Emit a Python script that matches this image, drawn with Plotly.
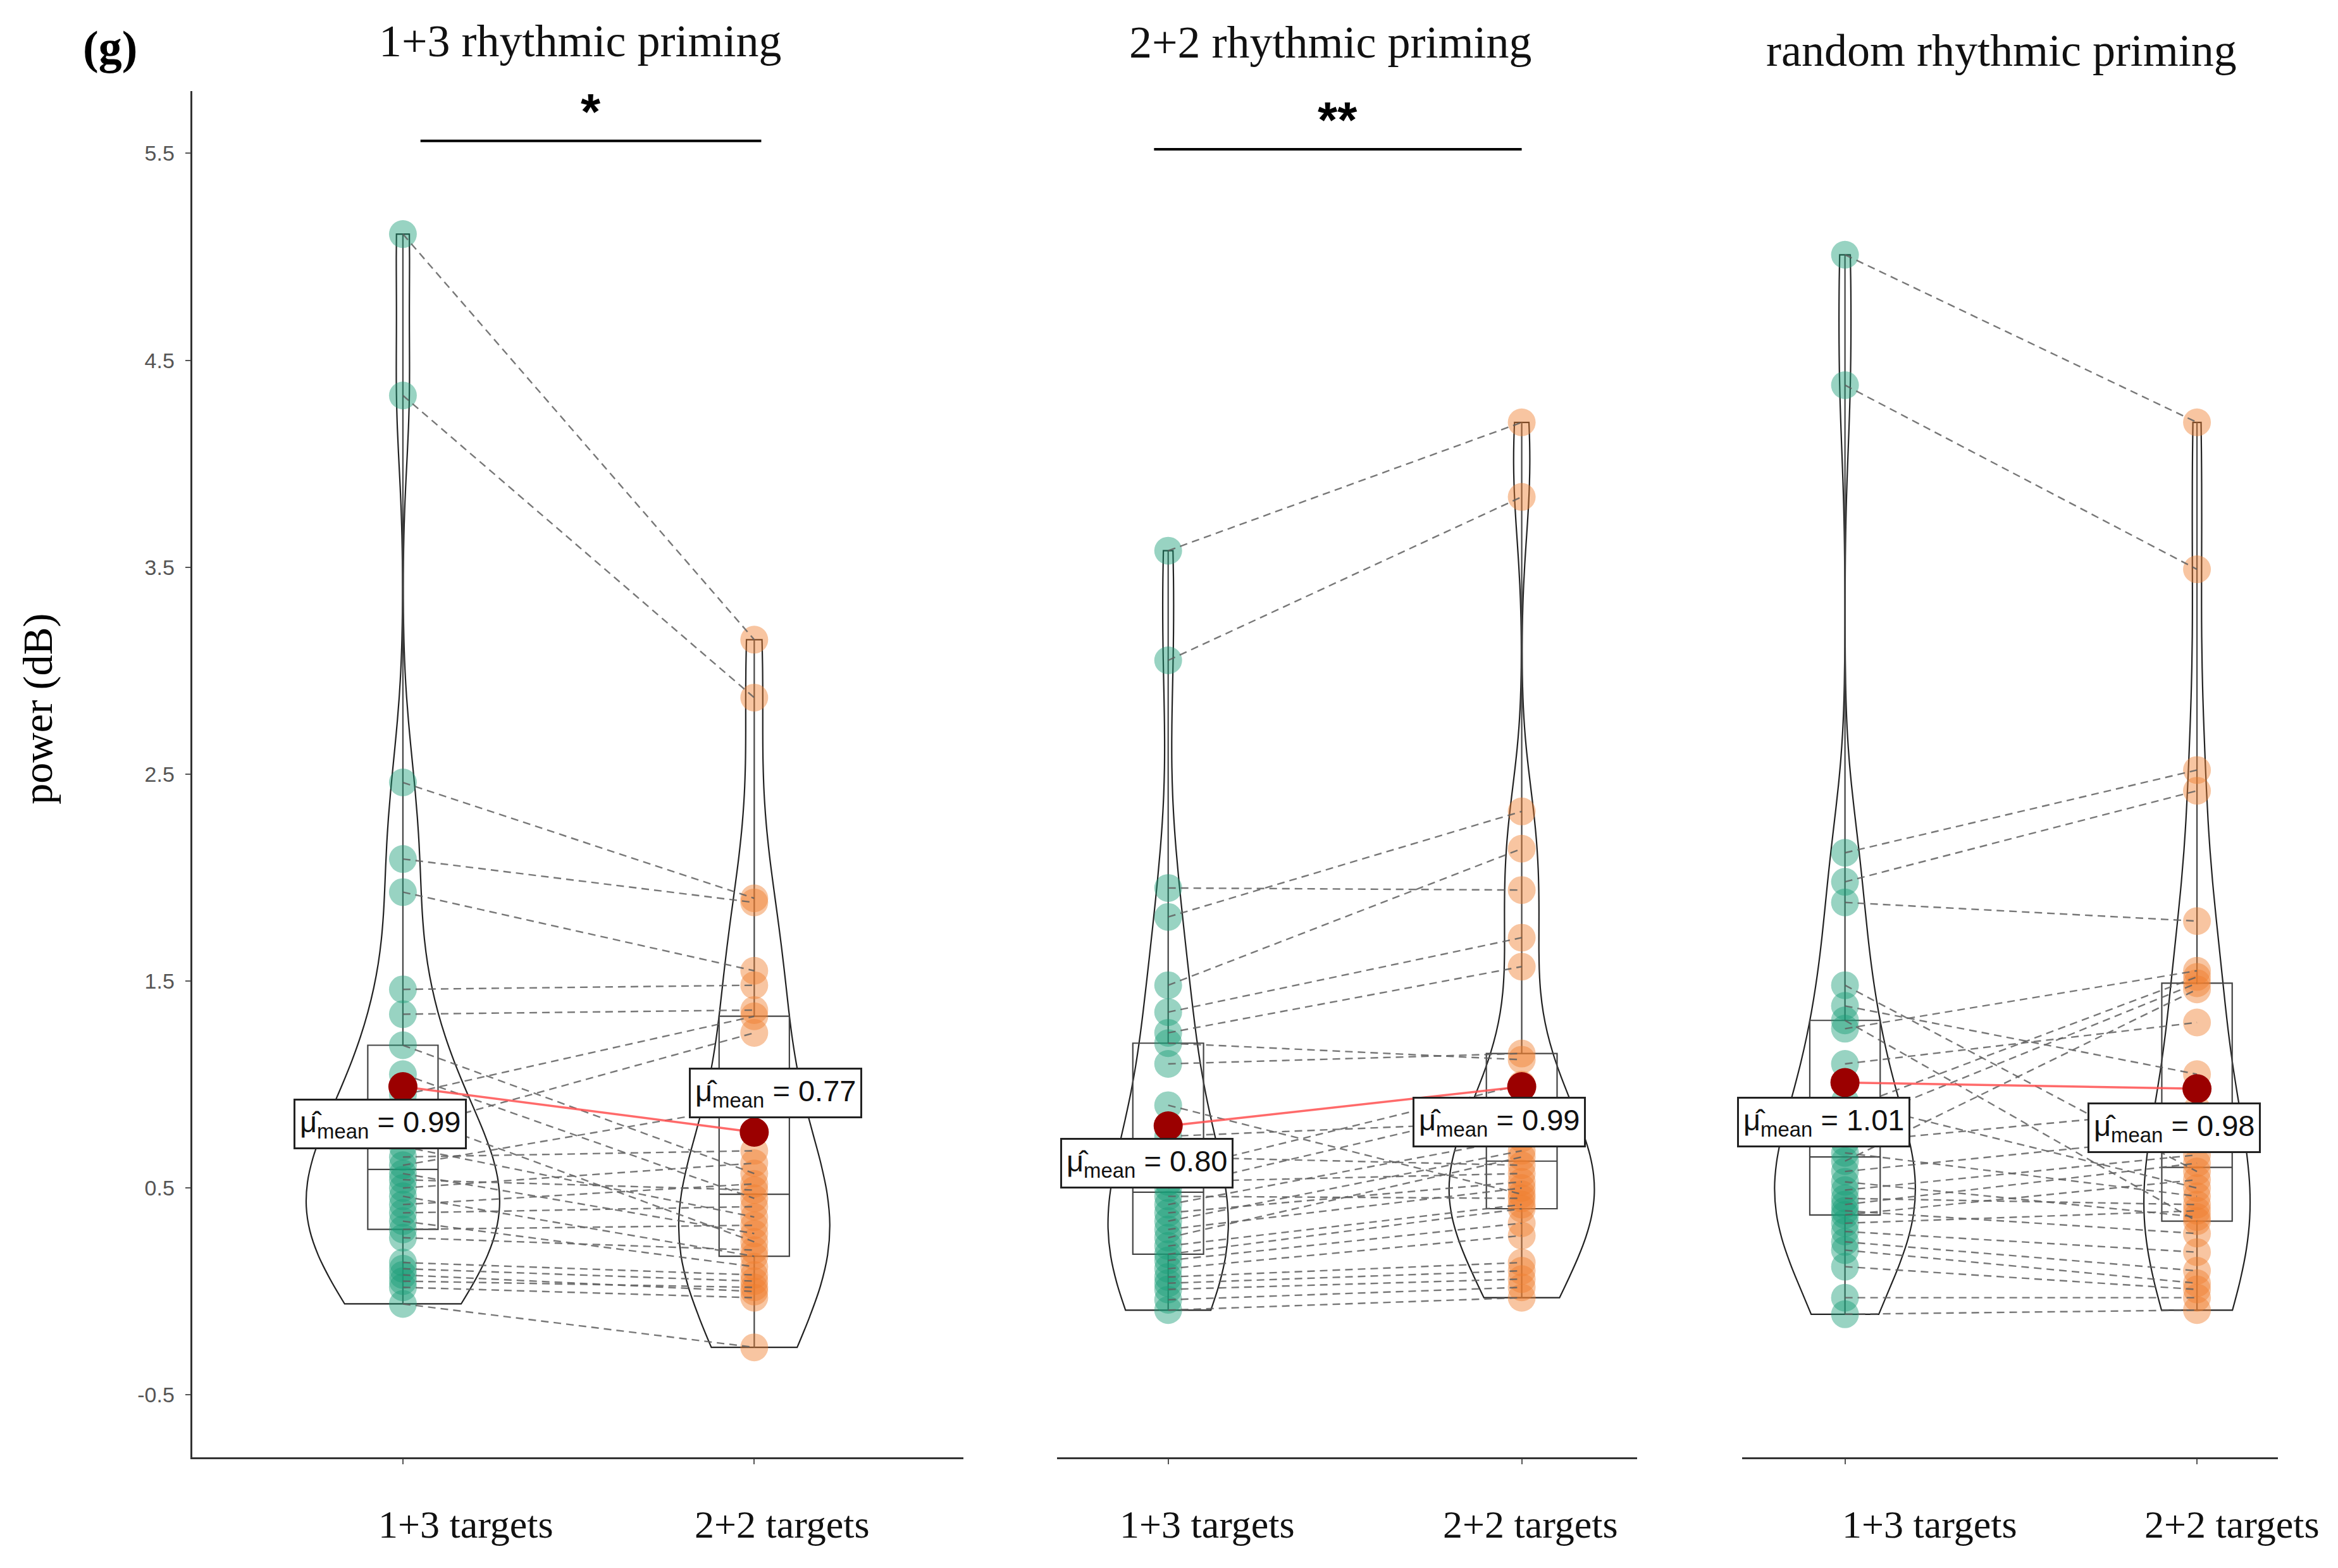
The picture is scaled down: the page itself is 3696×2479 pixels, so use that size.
import plotly.graph_objects as go

W, H = 3696, 2479

PANEL_TITLES = ["1+3 rhythmic priming", "2+2 rhythmic priming", "random rhythmic priming"]
CATEGORIES = ["1+3 targets", "2+2 targets"]
Y_TICKS = [-0.5, 0.5, 1.5, 2.5, 3.5, 4.5, 5.5]
Y_LABEL = "power (dB)"
PANEL_TAG = "(g)"

# paired subject values (same subject order in both lists of a panel)
P1_13 = [5.11, 4.33, 2.46, 2.09, 1.93, 1.46, 1.34, 1.19, 1.05, 0.95, 0.86, 0.78, 0.70, 0.65, 0.61,
         0.57, 0.54, 0.50, 0.46, 0.42, 0.38, 0.34, 0.30, 0.26, 0.14, 0.11, 0.08, 0.05, 0.02, -0.06]
P1_22 = [3.15, 2.87, 1.90, 1.88, 1.55, 1.48, 1.36, 0.57, 0.45, 1.33, 0.24, 1.25, 0.36, 0.68, 0.90,
         0.28, 0.49, 0.62, 0.17, 0.52, 0.41, 0.12, 0.32, 0.20, 0.08, 0.05, 0.00, 0.02, -0.03, -0.27]

P2_13 = [3.58, 3.05, 1.95, 1.81, 1.48, 1.35, 1.25, 1.20, 1.10, 0.90, 0.75, 0.65, 0.58, 0.53, 0.50,
         0.46, 0.42, 0.38, 0.34, 0.30, 0.26, 0.22, 0.18, 0.15, 0.11, 0.07, 0.04, 0.01, -0.04, -0.09]
P2_22 = [4.20, 3.84, 1.94, 2.32, 2.14, 1.71, 1.57, 1.12, 1.15, 0.47, 0.82, 0.61, 1.00, 0.57, 0.90,
         0.45, 0.74, 0.53, 0.68, 0.50, 0.65, 0.42, 0.40, 0.33, 0.27, 0.14, 0.10, 0.06, 0.02, -0.03]

P3_13 = [5.01, 4.38, 2.12, 1.98, 1.88, 1.48, 1.38, 1.31, 1.27, 1.10, 0.92, 0.88, 0.80, 0.72, 0.67,
         0.63, 0.58, 0.53, 0.49, 0.45, 0.42, 0.39, 0.37, 0.33, 0.29, 0.24, 0.20, 0.12, -0.03, -0.11]
P3_22 = [4.20, 3.49, 2.52, 2.42, 1.79, 0.58, 1.05, 0.34, 1.55, 1.30, 0.50, 1.52, 1.49, 0.88, 0.46,
         1.46, 0.75, 0.36, 0.66, 0.42, 0.62, 0.28, 0.54, 0.39, 0.19, 0.10, 0.04, 0.01, -0.03, -0.09]

MEANS = [[0.99, 0.77], [0.80, 0.99], [1.01, 0.98]]
MEAN_TEXT = [["0.99", "0.77"], ["0.80", "0.99"], ["1.01", "0.98"]]
SIGNIF = ["*", "**", ""]

PANELS = [(P1_13, P1_22), (P2_13, P2_22), (P3_13, P3_22)]

# ---- style ----
COLORS = ["#1B9E77", "#F07F2E"]
X_DOMAINS = [[0.080, 0.410], [0.450, 0.698], [0.743, 0.972]]
X_RANGES = [[-0.60, 1.596], [-0.314, 1.326], [-0.292, 1.229]]
Y_DOMAIN = [0.074, 0.945]
Y_RANGE = [-0.80, 5.80]
VIOLIN_W = [[0.55, 0.43], [0.34, 0.41], [0.40, 0.30]]
LABEL_DX = [[-0.064, 0.06], [-0.06, -0.064], [-0.06, -0.064]]
LABEL_DY = [[-0.18, 0.19], [-0.18, -0.17], [-0.19, -0.19]]
CAT_LABEL_DX = [[0.18, 0.08], [0.11, 0.025], [0.24, 0.10]]
CAT_LABEL_Y = 0.031
SIG_BAR = [[0.05, 1.02, 5.56], [-0.04, 1.0, 5.52]]
TITLE_X = [0.246, 0.567, 0.854]
TITLE_Y = [0.977, 0.976, 0.971]

SERIF = "Liberation Serif"
SANS = "Liberation Sans"

fig = go.Figure()

for p, (a, b) in enumerate(PANELS):
    xa = "x" if p == 0 else f"x{p+1}"
    ya = "y" if p == 0 else f"y{p+1}"
    groups = [a, b]
    # violins
    for i, vals in enumerate(groups):
        fig.add_trace(go.Violin(
            x=[i] * len(vals), y=vals, xaxis=xa, yaxis=ya,
            width=VIOLIN_W[p][i], scalemode="width", spanmode="hard",
            points=False, box_visible=False, meanline_visible=False,
            fillcolor="rgba(0,0,0,0)", line=dict(color="#222222", width=2.2),
            showlegend=False, hoverinfo="skip"))
    # boxes
    for i, vals in enumerate(groups):
        fig.add_trace(go.Box(
            x=[i] * len(vals), y=vals, xaxis=xa, yaxis=ya,
            width=0.2, boxpoints=False, whiskerwidth=0,
            fillcolor="rgba(0,0,0,0)", line=dict(color="#444444", width=2.2),
            showlegend=False, hoverinfo="skip"))
    # points
    for i, vals in enumerate(groups):
        fig.add_trace(go.Scatter(
            x=[i] * len(vals), y=vals, xaxis=xa, yaxis=ya, mode="markers",
            marker=dict(color=COLORS[i], size=44, opacity=0.45, line=dict(width=0)),
            showlegend=False, hoverinfo="skip"))
    # paired dashed lines
    lx, ly = [], []
    for v1, v2 in zip(a, b):
        lx += [0, 1, None]
        ly += [v1, v2, None]
    fig.add_trace(go.Scatter(
        x=lx, y=ly, xaxis=xa, yaxis=ya, mode="lines",
        line=dict(color="rgba(95,95,95,0.85)", width=2.4, dash="12px,8px"),
        showlegend=False, hoverinfo="skip"))
    # mean line + mean dots
    fig.add_trace(go.Scatter(
        x=[0, 1], y=MEANS[p], xaxis=xa, yaxis=ya, mode="lines",
        line=dict(color="rgba(255,80,80,0.85)", width=3.5),
        showlegend=False, hoverinfo="skip"))
    fig.add_trace(go.Scatter(
        x=[0, 1], y=MEANS[p], xaxis=xa, yaxis=ya, mode="markers",
        marker=dict(color="#9B0000", size=46),
        showlegend=False, hoverinfo="skip"))
    # mean labels
    for i in range(2):
        fig.add_annotation(
            x=i + LABEL_DX[p][i], y=MEANS[p][i] + LABEL_DY[p][i], xref=xa, yref=ya,
            xanchor="center", yanchor="middle",
            text=f"\u03bc\u0302<sub>mean</sub> = {MEAN_TEXT[p][i]}",
            showarrow=False, font=dict(family=SANS, size=47, color="#111111"),
            bgcolor="white", bordercolor="#222222", borderwidth=3, borderpad=7)
    # category labels under the axis
    for i in range(2):
        fig.add_annotation(
            x=i + CAT_LABEL_DX[p][i], y=CAT_LABEL_Y, xref=xa, yref="paper",
            xanchor="center", yanchor="middle", text=CATEGORIES[i], showarrow=False,
            font=dict(family=SERIF, size=62, color="#111111"))

    # axes
    xkey = "xaxis" if p == 0 else f"xaxis{p+1}"
    ykey = "yaxis" if p == 0 else f"yaxis{p+1}"
    fig.layout[xkey] = dict(
        domain=X_DOMAINS[p], range=X_RANGES[p], anchor=ya,
        tickmode="array", tickvals=[0, 1], showticklabels=False,
        showline=True, linecolor="#333333", linewidth=3,
        ticks="outside", ticklen=8, tickcolor="#555555", tickwidth=2,
        showgrid=False, zeroline=False)
    if p == 0:
        fig.layout[ykey] = dict(
            domain=Y_DOMAIN, range=Y_RANGE, anchor=xa,
            tickmode="array", tickvals=Y_TICKS,
            ticktext=[f"{t:.1f}" for t in Y_TICKS],
            showline=True, linecolor="#333333", linewidth=3,
            ticks="outside", ticklen=8, tickcolor="#555555", tickwidth=2,
            ticklabelstandoff=10,
            tickfont=dict(family=SANS, size=34, color="#555555"),
            showgrid=False, zeroline=False)
    else:
        fig.layout[ykey] = dict(
            domain=Y_DOMAIN, range=Y_RANGE, anchor=xa,
            showline=False, showticklabels=False, ticks="",
            showgrid=False, zeroline=False)

    # panel title
    fig.add_annotation(x=TITLE_X[p], y=TITLE_Y[p], xref="paper", yref="paper",
                       xanchor="center", yanchor="middle",
                       text=PANEL_TITLES[p], showarrow=False,
                       font=dict(family=SERIF, size=72, color="#111111"))

# significance bars
for p in range(2):
    xa = "x" if p == 0 else f"x{p+1}"
    ya = "y" if p == 0 else f"y{p+1}"
    x0, x1, yb = SIG_BAR[p]
    fig.add_trace(go.Scatter(x=[x0, x1], y=[yb, yb], xaxis=xa, yaxis=ya, mode="lines",
                             line=dict(color="black", width=4),
                             showlegend=False, hoverinfo="skip"))
    fig.add_annotation(x=(x0 + x1) / 2, y=yb, xref=xa, yref=ya,
                       xanchor="center", yanchor="bottom",
                       text=f"<b>{SIGNIF[p]}</b>", showarrow=False,
                       font=dict(family=SANS, size=80, color="black"))

fig.add_annotation(x=0.045, y=0.973, xref="paper", yref="paper",
                   xanchor="center", yanchor="middle",
                   text=f"<b>{PANEL_TAG}</b>", showarrow=False,
                   font=dict(family=SERIF, size=74, color="black"))
fig.add_annotation(x=0.014, y=0.551, xref="paper", yref="paper",
                   xanchor="center", yanchor="middle",
                   text=Y_LABEL, textangle=-90, showarrow=False,
                   font=dict(family=SERIF, size=66, color="black"))

fig.update_layout(
    width=W, height=H, margin=dict(l=0, r=0, t=0, b=0),
    paper_bgcolor="white", plot_bgcolor="white",
    violinmode="overlay", boxmode="overlay", showlegend=False)

fig.write_html("out.html")
